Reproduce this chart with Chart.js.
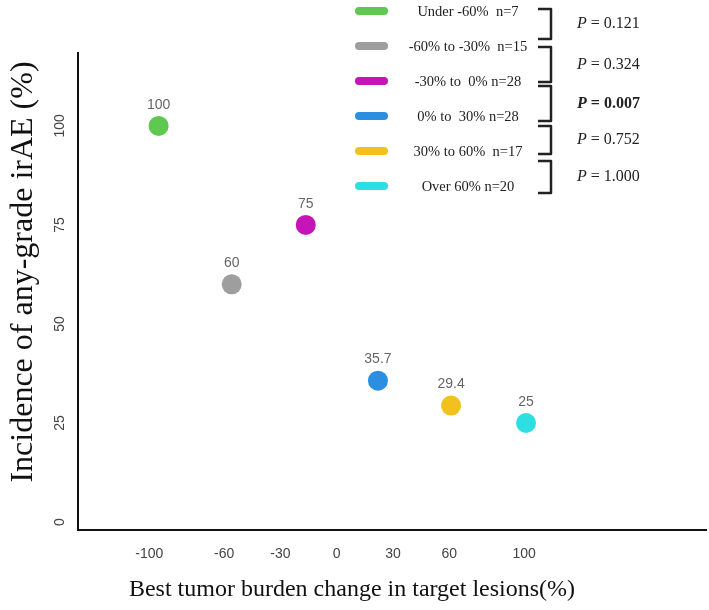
<!DOCTYPE html>
<html><head><meta charset="utf-8">
<script src="https://cdn.jsdelivr.net/npm/chart.js@4/dist/chart.umd.min.js"></script>
<style>html,body{margin:0;padding:0;background:#fff;overflow:hidden}#wrap{width:709px;height:610px;overflow:hidden}</style>
</head><body><div id="wrap"><canvas id="c" width="716" height="610"></canvas></div>
<script>
// ---- data ----
const groups = ["Under -60%  n=7", "-60% to -30%  n=15", "-30% to  0% n=28", "0% to  30% n=28", "30% to 60%  n=17", "Over 60% n=20"];
const tumorChange = [-95, -56, -16.5, 22, 61, 101];
const irAEIncidence = [100, 60, 75, 35.7, 29.4, 25];
const pValues = ["0.121", "0.324", "0.007", "0.752", "1.000"];
const pSignificant = [false, false, true, false, false];
const xTicks = [-100, -60, -30, 0, 30, 60, 100];
const yTicks = [0, 25, 50, 75, 100];
const xTitle = "Best tumor burden change in target lesions(%)";
const yTitle = "Incidence of any-grade irAE (%)";

// ---- styles ----
const groupColors = ["#5ec850", "#9e9e9e", "#c514b7", "#2c8ee0", "#f2c11c", "#2edfe2"];
const SERIF = '"Liberation Serif", "Times New Roman", serif';
const SANS = '"Liberation Sans", Arial, sans-serif';

const overlay = {
  id: 'overlay',
  afterDatasetsDraw(chart) {
    const ctx = chart.ctx;
    const meta = chart.getDatasetMeta(0);
    ctx.save();
    ctx.font = '14px ' + SANS;
    ctx.fillStyle = '#666';
    ctx.textAlign = 'center';
    ctx.textBaseline = 'middle';
    meta.data.forEach((pt, i) => ctx.fillText(String(irAEIncidence[i]), pt.x, pt.y - 21));
    ctx.restore();
  },
  afterDraw(chart) {
    const ctx = chart.ctx;
    ctx.save();
    // axis titles
    ctx.fillStyle = '#111';
    ctx.textAlign = 'center';
    ctx.textBaseline = 'middle';
    ctx.font = '24px ' + SERIF;
    ctx.fillText(xTitle, 352, 590);
    ctx.save();
    ctx.translate(24, 272);
    ctx.rotate(-Math.PI / 2);
    ctx.font = '32px ' + SERIF;
    ctx.fillText(yTitle, 0, 0);
    ctx.restore();

    // legend
    groups.forEach((g, i) => {
      const y = 11 + i * 35;
      ctx.fillStyle = groupColors[i];
      ctx.beginPath();
      ctx.roundRect(355, y - 4, 33, 8, 4);
      ctx.fill();
      ctx.fillStyle = '#222';
      ctx.font = '14.5px ' + SERIF;
      ctx.textAlign = 'center';
      ctx.fillText(g, 468, y + 1);
    });
    // brackets and P values
    const bracketY = [[9, 39], [47, 82], [86, 121], [126, 154], [161, 193]];
    pValues.forEach((p, k) => {
      const [t, b] = bracketY[k];
      ctx.strokeStyle = '#222';
      ctx.lineWidth = 2.5;
      ctx.lineJoin = 'round';
      ctx.beginPath();
      ctx.moveTo(538, t);
      ctx.lineTo(551, t);
      ctx.lineTo(551, b);
      ctx.lineTo(538, b);
      ctx.stroke();
      const cy = (t + b) / 2;
      const bold = pSignificant[k] ? 'bold ' : '';
      ctx.textAlign = 'left';
      ctx.fillStyle = '#222';
      ctx.font = 'italic ' + bold + '16px ' + SERIF;
      ctx.fillText('P', 577, cy);
      const w = ctx.measureText('P').width;
      ctx.font = bold + '16px ' + SERIF;
      ctx.fillText(' = ' + p, 577 + w, cy);
    });
    ctx.restore();
  }
};

new Chart(document.getElementById('c'), {
  type: 'scatter',
  data: {
    datasets: [{
      data: tumorChange.map((x, i) => ({ x, y: irAEIncidence[i] })),
      pointBackgroundColor: groupColors,
      pointBorderWidth: 0,
      pointRadius: 10,
      pointHoverRadius: 10
    }]
  },
  options: {
    responsive: false,
    animation: false,
    devicePixelRatio: 1,
    layout: { padding: { top: 53, right: 3, left: 0, bottom: 0 } },
    plugins: { legend: { display: false }, tooltip: { enabled: false } },
    scales: {
      x: {
        type: 'linear', min: -138, max: 197,
        afterBuildTicks: s => { s.ticks = xTicks.map(v => ({ value: v })); },
        afterFit: s => { s.height = 80; },
        grid: { display: false, drawTicks: false },
        border: { display: true, color: '#111', width: 2 },
        ticks: { color: '#444', font: { family: SANS, size: 14 }, padding: 16, maxRotation: 0, minRotation: 0 }
      },
      y: {
        type: 'linear', min: -2, max: 118.4,
        afterBuildTicks: s => { s.ticks = yTicks.map(v => ({ value: v })); },
        afterFit: s => { s.width = 78; },
        grid: { display: false, drawTicks: false },
        border: { display: true, color: '#111', width: 2 },
        ticks: { color: '#444', font: { family: SANS, size: 14 }, padding: 6, minRotation: 90, maxRotation: 90, crossAlign: 'center' }
      }
    }
  },
  plugins: [overlay]
});
</script></body></html>
